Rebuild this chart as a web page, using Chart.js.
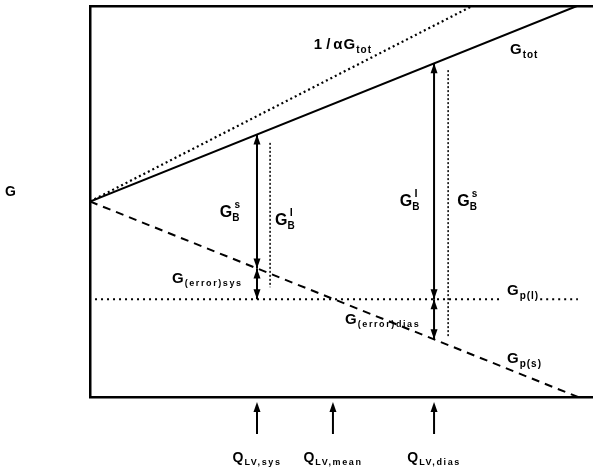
<!DOCTYPE html>
<html>
<head>
<meta charset="utf-8">
<script src="https://cdn.jsdelivr.net/npm/chart.js@4/dist/chart.umd.min.js"></script>
<style>
  body { margin: 0; background: #fff; }
  canvas { display: block; }
</style>
</head>
<body>
<canvas id="myChart" width="593" height="470"></canvas>
<script>
//Line end points (x = flow, y = conductance, arbitrary units)
const gTotX = [0, 9.68];
const gTotY = [5.0, 10.0];
const invAlphaX = [0, 7.6];
const invAlphaY = [5.0, 10.0];
const gpsX = [0, 9.7];
const gpsY = [5.0, 0];
//G_p(l) is drawn in two pieces so its label sits in the gap
const gplX = [0.1, 8.2, 8.95, 9.7];
const gplY = [2.5, 2.5, 2.5, 2.5];

//Flow values marked under the axis: sys, mean, dias
const qLV = [3.32, 4.83, 6.84];
const qNames = ['sys', 'mean', 'dias'];

//Dotted G_B helper lines next to the arrows
const gbDotX = [3.58, 7.12];
const gbDotTop = [6.5, 8.36];
const gbDotBottom = [2.81, 1.53];

//Gets the y of a two-point line at some x
function lineAt(xs, ys, x) {
    return ys[0] + (ys[1] - ys[0]) * (x - xs[0]) / (xs[1] - xs[0]);
}

function pts(xs, ys) {
    return xs.map((x, i) => ({x: x, y: ys[i]}));
}

//Arrow segments at systole and diastole
const qSys = qLV[0];
const qDias = qLV[2];
const arrows = [
    [qSys, lineAt(gTotX, gTotY, qSys), lineAt(gpsX, gpsY, qSys)],
    [qSys, lineAt(gpsX, gpsY, qSys), gplY[0]],
    [qDias, lineAt(gTotX, gTotY, qDias), gplY[0]],
    [qDias, gplY[0], lineAt(gpsX, gpsY, qDias)]
];

const FONT = '"Liberation Sans", Arial, sans-serif';

//Text labels: anchor in data units, then pieces [text, size, dy, dx, letter spacing]
const labels = [
    {x: 4.45, y: 8.9, parts: [['1', 15, 0], ['/', 15, 0, 4], ['\u03b1', 15, 0, 3], ['G', 15, 0, 1], ['tot', 10, 4, 1, 1]]},
    {x: 8.35, y: 8.78, parts: [['G', 15, 0], ['tot', 10, 4, 1, 1]]},
    {x: 2.58, y: 4.6, parts: [['G', 16, 0], ['B', 10, 4], ['s', 10, -9, -5]]},
    {x: 3.68, y: 4.4, parts: [['G', 16, 0], ['B', 10, 4], ['l', 11, -9, -5]]},
    {x: 6.16, y: 4.88, parts: [['G', 16, 0], ['B', 10, 4], ['l', 11, -9, -5]]},
    {x: 7.30, y: 4.88, parts: [['G', 16, 0], ['B', 10, 4], ['s', 10, -9, -5]]},
    {x: 1.63, y: 2.92, parts: [['G', 15, 0], ['(error)sys', 9, 3, 1, 1.6]]},
    {x: 5.07, y: 1.87, parts: [['G', 15, 0], ['(error)dias', 9, 3, 1, 1.6]]},
    {x: 8.29, y: 2.6, parts: [['G', 15, 0], ['p(l)', 10, 4, 1, 1]]},
    {x: 8.29, y: 0.87, parts: [['G', 15, 0], ['p(s)', 10, 4, 1, 1]]}
];

function drawParts(ctx, x, y, parts) {
    parts.forEach(p => {
        ctx.font = 'bold ' + p[1] + 'px ' + FONT;
        ctx.letterSpacing = (p[4] || 0) + 'px';
        if (p[3]) x += p[3];
        ctx.fillText(p[0], x, y + p[2]);
        x += ctx.measureText(p[0]).width;
    });
    ctx.letterSpacing = '0px';
    return x;
}

function partsWidth(ctx, parts) {
    let w = 0;
    parts.forEach(p => {
        ctx.font = 'bold ' + p[1] + 'px ' + FONT;
        ctx.letterSpacing = (p[4] || 0) + 'px';
        w += (p[3] || 0) + ctx.measureText(p[0]).width;
    });
    ctx.letterSpacing = '0px';
    return w;
}

function head(ctx, x, y, dir) {
    //dir -1 points up, 1 points down
    ctx.beginPath();
    ctx.moveTo(x, y);
    ctx.lineTo(x - 3.5, y - dir * 10);
    ctx.lineTo(x + 3.5, y - dir * 10);
    ctx.closePath();
    ctx.fill();
}

const extras = {
    id: 'extras',
    afterDatasetsDraw(chart) {
        const ctx = chart.ctx;
        const xs = chart.scales.x;
        const ys = chart.scales.y;
        const area = chart.chartArea;
        ctx.save();
        ctx.fillStyle = '#000';
        ctx.strokeStyle = '#000';
        ctx.textBaseline = 'alphabetic';

        //arrow heads on both ends of every arrow
        arrows.forEach(a => {
            const px = xs.getPixelForValue(a[0]);
            const y1 = ys.getPixelForValue(a[1]);
            const y2 = ys.getPixelForValue(a[2]);
            head(ctx, px, y1, y1 < y2 ? -1 : 1);
            head(ctx, px, y2, y2 < y1 ? -1 : 1);
        });

        //arrows under the x axis with their Q labels
        ctx.lineWidth = 2;
        qLV.forEach((q, i) => {
            const px = xs.getPixelForValue(q);
            ctx.beginPath();
            ctx.moveTo(px, area.bottom + 10);
            ctx.lineTo(px, area.bottom + 37);
            ctx.stroke();
            head(ctx, px, area.bottom + 5, -1);
            const parts = [['Q', 14, 0], ['LV,' + qNames[i], 9, 3, 1, 1.6]];
            drawParts(ctx, px - partsWidth(ctx, parts) / 2, area.bottom + 65, parts);
        });

        //labels
        labels.forEach(l => {
            drawParts(ctx, xs.getPixelForValue(l.x), ys.getPixelForValue(l.y), l.parts);
        });

        //y axis name
        drawParts(ctx, 5, 196, [['G', 14, 0]]);
        ctx.restore();
    }
};

const black = '#000';

function lineSet(data, width, dash) {
    return {data: data, showLine: true, borderColor: black, borderWidth: width,
            borderDash: dash, pointRadius: 0, fill: false, tension: 0};
}

const datasets = [
    lineSet(pts(gTotX, gTotY), 2, []),
    lineSet(pts(invAlphaX, invAlphaY), 2.2, [2, 3]),
    lineSet(pts(gpsX, gpsY), 2, [8, 6]),
    lineSet(pts(gplX.slice(0, 2), gplY.slice(0, 2)), 2, [2, 4]),
    lineSet(pts(gplX.slice(2), gplY.slice(2)), 2, [2, 4])
];
gbDotX.forEach((x, i) => {
    datasets.push(lineSet([{x: x, y: gbDotTop[i]}, {x: x, y: gbDotBottom[i]}], 1.5, [2, 2]));
});
arrows.forEach(a => {
    datasets.push(lineSet([{x: a[0], y: a[1]}, {x: a[0], y: a[2]}], 2, []));
});

const ctx = document.getElementById('myChart').getContext('2d');
const myChart = new Chart(ctx, {
    type: 'scatter',
    data: {datasets: datasets},
    options: {
        responsive: false,
        animation: false,
        devicePixelRatio: 1,
        layout: {padding: {left: 90, top: 6, right: 0, bottom: 73}},
        plugins: {legend: {display: false}, tooltip: {enabled: false}},
        scales: {
            x: {
                type: 'linear', min: 0, max: 10,
                grid: {display: false, drawTicks: false},
                ticks: {display: false},
                border: {display: true, color: black, width: 2.5}
            },
            xTop: {
                type: 'linear', position: 'top', min: 0, max: 10,
                grid: {display: false, drawTicks: false},
                ticks: {display: false},
                border: {display: true, color: black, width: 2.5}
            },
            y: {
                type: 'linear', min: 0, max: 10,
                grid: {display: false, drawTicks: false},
                ticks: {display: false},
                border: {display: true, color: black, width: 2.5}
            }
        }
    },
    plugins: [extras]
});
</script>
</body>
</html>
